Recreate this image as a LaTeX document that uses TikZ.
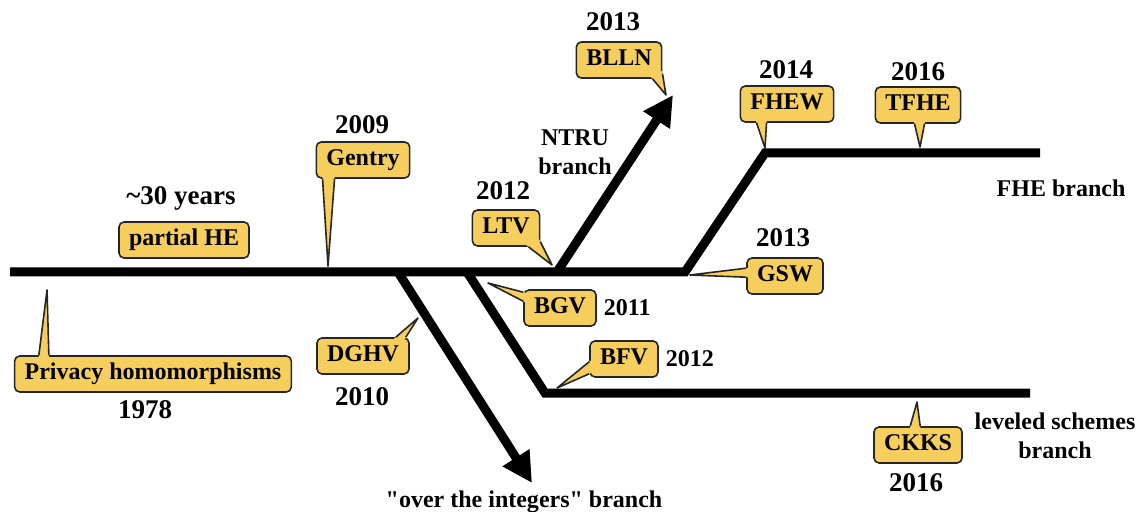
\documentclass[tikz,border=0pt]{standalone}
\usepackage{fontspec}
\newfontfamily\labelfont{Liberation Serif}
\usetikzlibrary{arrows.meta, calc}
\definecolor{calloutyellow}{RGB}{246,206,94}
\tikzset{
  branch/.style={line width=4.5pt, line join=miter},
  callout/.style={
    rectangle, rounded corners=2.5pt, draw=black!85, line width=0.8pt, fill=calloutyellow,
    font=\labelfont\bfseries\fontsize{12}{14}\selectfont,
    inner xsep=5pt, minimum height=18pt, text height=8.2pt, text depth=2.6pt
  },
  callfill/.style={fill=calloutyellow},
  callline/.style={draw=black!85, line width=0.8pt, line join=round},
  year/.style={font=\labelfont\bfseries\fontsize{13.5}{15}\selectfont},
  note/.style={font=\labelfont\bfseries\fontsize{12}{14.5}\selectfont, align=center}
}
% pointer of a callout: base point, tip, base point
\newcommand{\calloutpointer}[3]{%
  \fill[callfill] ($(#1)!-1.5pt!(#2)$) -- (#2) -- ($(#3)!-1.5pt!(#2)$) -- cycle;
  \draw[callline] (#1) -- (#2) -- (#3);
}

\begin{document}
\begin{tikzpicture}[x=0.5pt, y=-0.5pt]
  \useasboundingbox (0,0) rectangle (1143,512);
  % branch points
  \coordinate (start) at (10,272);
  \coordinate (fork-int) at (398,272);
  \coordinate (fork-lev) at (467,272);
  \coordinate (fork-ntru) at (557,272);
  \coordinate (fork-fhe) at (685,272);
  \coordinate (int-end) at (532,483);
  \coordinate (ntru-end) at (673,95);
  \coordinate (lev-bend) at (545,393);
  \coordinate (lev-end) at (1030,393);
  \coordinate (fhe-bend) at (765,153);
  \coordinate (fhe-end) at (1040,153);

  \draw[branch] (start) -- (fork-fhe) -- (fhe-bend) -- (fhe-end);
  \draw[branch] (fork-lev) -- (lev-bend) -- (lev-end);
  \draw[branch, -{Triangle[length=15pt, width=15pt]}] (fork-int) -- (int-end);
  \draw[branch, -{Triangle[length=15pt, width=15pt]}] (fork-ntru) -- (ntru-end);

  % tips of the pointers
  \coordinate (privacy-tip) at (47,290);
  \coordinate (gentry-tip) at (328,266);
  \coordinate (dghv-tip) at (418,318);
  \coordinate (ltv-tip) at (552,265);
  \coordinate (blln-tip) at (666,95);
  \coordinate (bgv-tip) at (488,283);
  \coordinate (bfv-tip) at (557,388);
  \coordinate (gsw-tip) at (690,275);
  \coordinate (fhew-tip) at (765,148);
  \coordinate (tfhe-tip) at (920,147);
  \coordinate (ckks-tip) at (917,402);

  % callouts
  \node[callout] (partialhe) at (184,240) {partial HE};
  \node[callout] (privacy) at (153,374) {Privacy homomorphisms};
  \calloutpointer{[xshift=12.5pt]privacy.north west}{privacy-tip}{[xshift=17.5pt]privacy.north west}
  \node[callout] (gentry) at (363,160) {Gentry};
  \calloutpointer{[xshift=3.5pt]gentry.south west}{gentry-tip}{[xshift=9.5pt]gentry.south west}
  \node[callout] (dghv) at (363,356) {DGHV};
  \calloutpointer{[xshift=-7pt]dghv.north east}{dghv-tip}{[xshift=-2pt]dghv.north east}
  \node[callout] (ltv) at (506,228) {LTV};
  \calloutpointer{[xshift=-6pt]ltv.south east}{ltv-tip}{[yshift=2.5pt]ltv.south east}
  \node[callout] (blln) at (619,60) {BLLN};
  \calloutpointer{[xshift=-5pt]blln.south east}{blln-tip}{[yshift=2.5pt]blln.south east}
  \node[callout] (bgv) at (560,308) {BGV};
  \calloutpointer{[yshift=-1.5pt]bgv.north west}{bgv-tip}{[yshift=-6pt]bgv.north west}
  \node[callout] (bfv) at (624,359) {BFV};
  \calloutpointer{[yshift=8pt]bfv.south west}{bfv-tip}{[yshift=2pt]bfv.south west}
  \node[callout] (gsw) at (785,276) {GSW};
  \calloutpointer{[yshift=-5.5pt]gsw.north west}{gsw-tip}{[yshift=-10pt]gsw.north west}
  \node[callout] (fhew) at (787,104) {FHEW};
  \calloutpointer{[xshift=8.5pt]fhew.south west}{fhew-tip}{[xshift=13.5pt]fhew.south west}
  \node[callout] (tfhe) at (918,105) {TFHE};
  \calloutpointer{[xshift=20pt]tfhe.south west}{tfhe-tip}{[xshift=25pt]tfhe.south west}
  \node[callout] (ckks) at (918,445) {CKKS};
  \calloutpointer{[xshift=18.5pt]ckks.north west}{ckks-tip}{[xshift=23.5pt]ckks.north west}

  % years
  \node[year] (years30) at (181,198) {\textasciitilde30 years};
  \node[year] (y1978) at (145,410) {1978};
  \node[year] (y2009) at (362,125) {2009};
  \node[year] (y2010) at (362,397) {2010};
  \node[year] (y2012ltv) at (503,191) {2012};
  \node[year] (y2013blln) at (613,22) {2013};
  \node[year] (y2014) at (786,70) {2014};
  \node[year] (y2016tfhe) at (918,72) {2016};
  \node[year] (y2013gsw) at (783,238) {2013};
  \node[year] (y2016ckks) at (916,483) {2016};
  \node[note, anchor=west] (y2011) at (bgv.east) {2011};
  \node[note, anchor=west] (y2012bfv) at (bfv.east) {2012};

  % branch names
  \node[note] (ntru) at (575,152) {NTRU\\branch};
  \node[note] (fhe) at (1061,188) {FHE branch};
  \node[note] (leveled) at (1055,436) {leveled schemes\\branch};
  \node[note] (integers) at (524,502) {"over the integers" branch};
\end{tikzpicture}
\end{document}
